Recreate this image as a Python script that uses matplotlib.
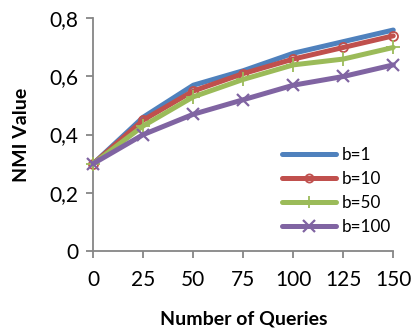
import matplotlib
matplotlib.use("Agg")
import matplotlib.pyplot as plt
from matplotlib.ticker import FuncFormatter

queries = [0, 25, 50, 75, 100, 125, 150]
nmi_b1 = [0.30, 0.46, 0.57, 0.62, 0.68, 0.72, 0.76]
nmi_b10 = [0.30, 0.45, 0.55, 0.61, 0.66, 0.70, 0.74]
nmi_b50 = [0.30, 0.43, 0.53, 0.59, 0.64, 0.66, 0.70]
nmi_b100 = [0.30, 0.40, 0.47, 0.52, 0.57, 0.60, 0.64]
labels = ["b=1", "b=10", "b=50", "b=100"]

plt.rcParams['font.family'] = ['Lato', 'DejaVu Sans']

fig = plt.figure(figsize=(4.12, 3.29), dpi=100)
ax = fig.add_axes([0.2265, 0.238, 0.728, 0.706])

axis_grey = "#868686"
lw = 3.6
ax.plot(queries, nmi_b1, color="#4F81BD", lw=lw, solid_capstyle="round",
        label=labels[0])
ax.plot(queries, nmi_b10, color="#C0504D", lw=lw, solid_capstyle="round",
        marker="o", ms=6.5, mfc="none", mec="#C0504D", mew=1.3, label=labels[1])
ax.plot(queries, nmi_b50, color="#9BBB59", lw=lw, solid_capstyle="round",
        marker="+", ms=10, mew=1.3, label=labels[2])
ax.plot(queries, nmi_b100, color="#8064A2", lw=lw, solid_capstyle="round",
        marker="x", ms=9, mew=1.6, label=labels[3])

ax.set_xlim(0, 150)
ax.set_ylim(0, 0.8)
ax.set_xticks(queries)
ax.set_yticks([0, 0.2, 0.4, 0.6, 0.8])
ax.yaxis.set_major_formatter(FuncFormatter(
    lambda v, p: "0" if v == 0 else f"{v:.1f}".replace(".", ",")))

for side in ("top", "right"):
    ax.spines[side].set_visible(False)
for side in ("left", "bottom"):
    ax.spines[side].set_color(axis_grey)
    ax.spines[side].set_linewidth(1.3)
    ax.spines[side].set_zorder(0)
ax.tick_params(axis="both", direction="out", length=5, width=1.3,
               color=axis_grey, labelsize=15, labelcolor="black")
ax.tick_params(axis="x", pad=9)
ax.tick_params(axis="y", pad=6)
for line in ax.lines:
    line.set_clip_on(False)

ax.set_xlabel("Number of Queries", fontsize=14, fontweight="bold", labelpad=15)
ax.set_ylabel("NMI Value", fontsize=14, fontweight="bold", labelpad=14)

fig.legend(loc="center left", bbox_to_anchor=(0.684, 0.42), frameon=False,
           fontsize=12.3, handlelength=3.2, handletextpad=0.3, labelspacing=0.48,
           borderpad=0, borderaxespad=0, markerscale=0.9)

fig.savefig("out.png", dpi=100)
